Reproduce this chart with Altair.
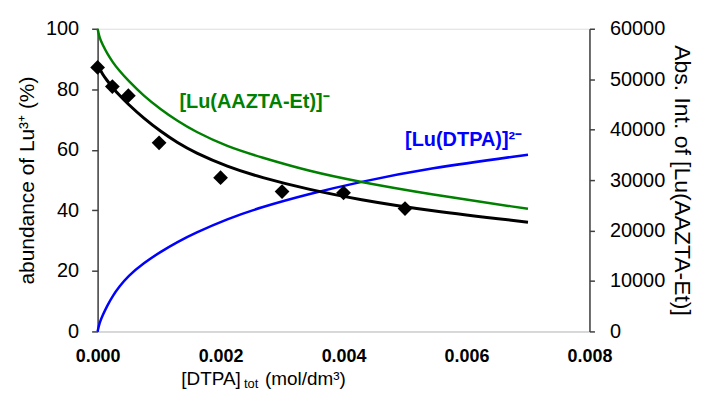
import altair as alt
import pandas as pd

# Measured data points (diamonds)
pts_x = [0.0, 0.00024, 0.0005, 0.001, 0.002, 0.003, 0.004, 0.005]
pts_y = [87.2, 80.9, 77.9, 62.3, 50.8, 46.2, 45.8, 40.6]

# Sample positions along the curves
curve_x = [0.0, 0.00003, 0.00008, 0.00015, 0.00025, 0.00035, 0.00049, 0.00075,
           0.00103, 0.0013, 0.00157, 0.00211, 0.00265, 0.00343, 0.00424, 0.00538,
           0.0070]

# Fitted Lu3+ abundance curve (black, %)
black_y = [88.3, 86.9, 85.0, 83.0, 80.4, 78.1, 75.2, 70.4, 66.0, 62.3, 59.2, 54.4,
           50.9, 46.9, 43.6, 39.9, 36.1]

# [Lu(DTPA)]2- abundance (blue, %)
blue_y = [0.0, 2.8, 5.2, 8.3, 11.9, 14.7, 18.2, 22.6, 26.4, 29.6, 32.4, 37.2, 41.0,
          45.4, 49.3, 53.9, 58.4]

# Abs. Int. of [Lu(AAZTA-Et)] (green, right axis)
green_y = [60000, 58200, 56880, 55200, 53280, 51720, 49800, 46680, 43980, 41700,
           39720, 36600, 34560, 31800, 29700, 27240, 24300]

x_ticks = [0, 0.002, 0.004, 0.006, 0.008]
left_ticks = [0, 20, 40, 60, 80, 100]
right_ticks = [0, 10000, 20000, 30000, 40000, 50000, 60000]

ann_text = ["[Lu(AAZTA-Et)]⁻", "[Lu(DTPA)]²⁻"]
ann_x = [0.00133, 0.0050]
ann_y = [73.9, 61.4]
ann_color = ["#008000", "#0000FF"]

FONT = "Liberation Sans"
GREEN = "#008000"
BLUE = "#0000FF"

df_pts = pd.DataFrame({"x": pts_x, "y": pts_y})
df_black = pd.DataFrame({"x": curve_x, "y": black_y})
df_blue = pd.DataFrame({"x": curve_x, "y": blue_y})
df_green = pd.DataFrame({"x": curve_x, "y": green_y})
df_ann = pd.DataFrame({"x": ann_x, "y": ann_y, "t": ann_text, "c": ann_color})

xscale = alt.Scale(domain=[0, 0.008], nice=False, zero=False)
xaxis = alt.Axis(values=x_ticks, format=".3f", title=None, grid=False, ticks=False,
                 labelFont=FONT, labelFontSize=18, labelFontWeight="bold",
                 labelColor="black", labelPadding=16, labelFlush=False,
                 domainColor="#d0d0d0", domainWidth=1.5)
X = alt.X("x:Q", scale=xscale, axis=xaxis)

lscale = alt.Scale(domain=[0, 100], nice=False)
laxis = alt.Axis(values=left_ticks, title="abundance of Lu³⁺ (%)", grid=False,
                 labelFont=FONT, labelFontSize=20, labelColor="black",
                 labelPadding=13, tickSize=6, tickColor="#404040",
                 domainColor="#404040", domainWidth=1.5, tickWidth=1.5,
                 titleFont=FONT, titleFontSize=21, titleFontWeight="normal",
                 titleColor="black", titlePadding=8)

black_line = alt.Chart(df_black).mark_line(color="black", strokeWidth=3,
                                           interpolate="basis").encode(
    x=X, y=alt.Y("y:Q", scale=lscale, axis=laxis))
blue_line = alt.Chart(df_blue).mark_line(color=BLUE, strokeWidth=2.5,
                                         interpolate="basis").encode(
    x=X, y=alt.Y("y:Q", scale=lscale, axis=laxis))
diamonds = alt.Chart(df_pts).mark_point(shape="diamond", filled=True, color="black",
                                        size=220, opacity=1).encode(
    x=X, y=alt.Y("y:Q", scale=lscale, axis=laxis))
ann = alt.Chart(df_ann).mark_text(align="left", baseline="alphabetic", font=FONT,
                                  fontSize=20, fontWeight="bold").encode(
    x=X, y=alt.Y("y:Q", scale=lscale, axis=laxis), text="t:N",
    color=alt.Color("c:N", scale=None))

# x axis title pieces
xt1 = alt.Chart(pd.DataFrame({"t": ["[DTPA]"]})).mark_text(
    align="left", baseline="alphabetic", font=FONT, fontSize=19, color="black").encode(
    x=alt.value(84), y=alt.value(358), text="t:N")
xt2 = alt.Chart(pd.DataFrame({"t": ["tot"]})).mark_text(
    align="left", baseline="alphabetic", font=FONT, fontSize=13, color="black").encode(
    x=alt.value(147), y=alt.value(361), text="t:N")
xt3 = alt.Chart(pd.DataFrame({"t": ["(mol/dm³)"]})).mark_text(
    align="left", baseline="alphabetic", font=FONT, fontSize=19, color="black").encode(
    x=alt.value(168), y=alt.value(358), text="t:N")

left = alt.layer(blue_line, black_line, diamonds, ann, xt1, xt2, xt3)

rscale = alt.Scale(domain=[0, 60000], nice=False)
raxis = alt.Axis(orient="right", values=right_ticks, format="d",
                 title="Abs. Int. of [Lu(AAZTA-Et)]", grid=False,
                 labelFont=FONT, labelFontSize=20, labelColor="black",
                 labelAlign="left", labelPadding=15, tickSize=5,
                 tickColor="#404040", tickWidth=1.5, domainColor="#404040",
                 domainWidth=1.5, titleFont=FONT, titleFontSize=23,
                 titleFontWeight="normal", titleColor="black", titlePadding=5)
green_line = alt.Chart(df_green).mark_line(color=GREEN, strokeWidth=2.5,
                                           interpolate="basis").encode(
    x=X, y=alt.Y("y:Q", scale=rscale, axis=raxis))

chart = alt.layer(left, green_line).resolve_scale(y="independent").properties(
    width=494, height=304, autosize="none",
    padding={"left": 90, "top": 20, "right": 108, "bottom": 61},
).configure_view(stroke=None).configure(font=FONT)

chart.save("out.html", embed_options={"renderer": "svg", "actions": False})
